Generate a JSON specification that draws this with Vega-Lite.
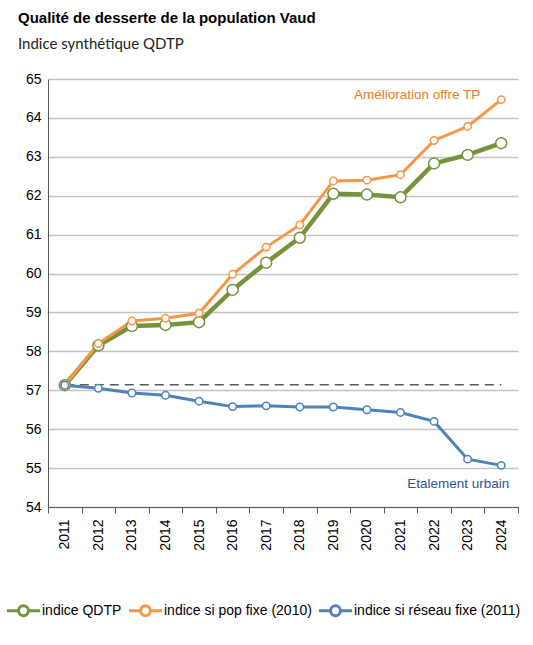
{
  "$schema": "https://vega.github.io/schema/vega-lite/v6.json",
  "autosize": "none",
  "width": 470,
  "height": 428,
  "padding": {"left": 48, "top": 79, "right": 15, "bottom": 138},
  "background": "white",
  "title": {
    "text": "Qualité de desserte de la population Vaud",
    "subtitle": "Indice synthétique QDTP",
    "anchor": "start",
    "frame": "group",
    "dx": -30,
    "offset": 20,
    "font": "Liberation Sans",
    "fontSize": 15,
    "fontWeight": "bold",
    "color": "black",
    "subtitleFont": "Lato",
    "subtitleFontSize": 15,
    "subtitleColor": "#222222",
    "subtitlePadding": 11
  },
  "config": {
    "view": {"stroke": null},
    "font": "Liberation Sans"
  },
  "datasets": {
    "series": [
      {"year": "2011", "value": 57.13, "serie": "indice QDTP"},
      {"year": "2012", "value": 58.15, "serie": "indice QDTP"},
      {"year": "2013", "value": 58.65, "serie": "indice QDTP"},
      {"year": "2014", "value": 58.68, "serie": "indice QDTP"},
      {"year": "2015", "value": 58.75, "serie": "indice QDTP"},
      {"year": "2016", "value": 59.58, "serie": "indice QDTP"},
      {"year": "2017", "value": 60.28, "serie": "indice QDTP"},
      {"year": "2018", "value": 60.92, "serie": "indice QDTP"},
      {"year": "2019", "value": 62.05, "serie": "indice QDTP"},
      {"year": "2020", "value": 62.03, "serie": "indice QDTP"},
      {"year": "2021", "value": 61.96, "serie": "indice QDTP"},
      {"year": "2022", "value": 62.83, "serie": "indice QDTP"},
      {"year": "2023", "value": 63.05, "serie": "indice QDTP"},
      {"year": "2024", "value": 63.35, "serie": "indice QDTP"},
      {"year": "2011", "value": 57.13, "serie": "indice si pop fixe (2010)"},
      {"year": "2012", "value": 58.2, "serie": "indice si pop fixe (2010)"},
      {"year": "2013", "value": 58.78, "serie": "indice si pop fixe (2010)"},
      {"year": "2014", "value": 58.85, "serie": "indice si pop fixe (2010)"},
      {"year": "2015", "value": 58.98, "serie": "indice si pop fixe (2010)"},
      {"year": "2016", "value": 59.98, "serie": "indice si pop fixe (2010)"},
      {"year": "2017", "value": 60.68, "serie": "indice si pop fixe (2010)"},
      {"year": "2018", "value": 61.25, "serie": "indice si pop fixe (2010)"},
      {"year": "2019", "value": 62.38, "serie": "indice si pop fixe (2010)"},
      {"year": "2020", "value": 62.4, "serie": "indice si pop fixe (2010)"},
      {"year": "2021", "value": 62.54, "serie": "indice si pop fixe (2010)"},
      {"year": "2022", "value": 63.42, "serie": "indice si pop fixe (2010)"},
      {"year": "2023", "value": 63.78, "serie": "indice si pop fixe (2010)"},
      {"year": "2024", "value": 64.47, "serie": "indice si pop fixe (2010)"},
      {"year": "2011", "value": 57.13, "serie": "indice si réseau fixe (2011)"},
      {"year": "2012", "value": 57.05, "serie": "indice si réseau fixe (2011)"},
      {"year": "2013", "value": 56.93, "serie": "indice si réseau fixe (2011)"},
      {"year": "2014", "value": 56.87, "serie": "indice si réseau fixe (2011)"},
      {"year": "2015", "value": 56.72, "serie": "indice si réseau fixe (2011)"},
      {"year": "2016", "value": 56.58, "serie": "indice si réseau fixe (2011)"},
      {"year": "2017", "value": 56.6, "serie": "indice si réseau fixe (2011)"},
      {"year": "2018", "value": 56.57, "serie": "indice si réseau fixe (2011)"},
      {"year": "2019", "value": 56.57, "serie": "indice si réseau fixe (2011)"},
      {"year": "2020", "value": 56.5, "serie": "indice si réseau fixe (2011)"},
      {"year": "2021", "value": 56.43, "serie": "indice si réseau fixe (2011)"},
      {"year": "2022", "value": 56.2, "serie": "indice si réseau fixe (2011)"},
      {"year": "2023", "value": 55.23, "serie": "indice si réseau fixe (2011)"},
      {"year": "2024", "value": 55.07, "serie": "indice si réseau fixe (2011)"}
    ],
    "reference": [
      {"year": "2011", "value": 57.14},
      {"year": "2024", "value": 57.14}
    ]
  },
  "encoding": {
    "x": {
      "field": "year",
      "type": "ordinal",
      "scale": {"type": "band", "paddingInner": 0, "paddingOuter": 0},
      "axis": {
        "title": null,
        "labelAngle": -90,
        "labelFontSize": 14,
        "labelColor": "black",
        "labelPadding": 6,
        "tickBand": "extent",
        "tickSize": 6,
        "tickColor": "#595959",
        "domainColor": "#595959",
        "grid": false
      }
    },
    "y": {
      "field": "value",
      "type": "quantitative",
      "scale": {"domain": [54, 65], "nice": false, "zero": false},
      "axis": {
        "title": null,
        "values": [54, 55, 56, 57, 58, 59, 60, 61, 62, 63, 64, 65],
        "labelFontSize": 14,
        "labelColor": "black",
        "labelPadding": 7,
        "ticks": false,
        "domainColor": "#595959",
        "gridColor": "#c4c4c4",
        "gridWidth": 1.5
      }
    }
  },
  "layer": [
    {
      "data": {"name": "reference"},
      "mark": {"type": "line", "color": "#595959", "strokeDash": [9, 6], "strokeWidth": 1.5}
    },
    {
      "data": {"name": "series"},
      "transform": [{"filter": "datum.serie === 'indice QDTP'"}],
      "mark": {"type": "line", "strokeWidth": 4.5},
      "encoding": {
        "color": {
          "field": "serie",
          "type": "nominal",
          "scale": {
            "domain": ["indice QDTP", "indice si pop fixe (2010)", "indice si réseau fixe (2011)"],
            "range": ["#76923c", "#f79646", "#4f81bd"]
          },
          "legend": {
            "title": null,
            "orient": "none",
            "direction": "horizontal",
            "legendX": -43,
            "legendY": 513,
            "symbolType": "M-1,0H-0.3M0.3,0H1M-0.3,0A0.3,0.3 0 1,1 0.3,0A0.3,0.3 0 1,1 -0.3,0",
            "symbolSize": 1100,
            "symbolStrokeWidth": 3,
            "symbolFillColor": "white",
            "labelFontSize": 14,
            "labelColor": "black",
            "labelOffset": 0,
            "labelLimit": 300,
            "columnPadding": 0
          }
        }
      }
    },
    {
      "data": {"name": "series"},
      "transform": [{"filter": "datum.serie !== 'indice QDTP'"}],
      "mark": {"type": "line", "strokeWidth": 3},
      "encoding": {
        "color": {"field": "serie", "type": "nominal"}
      }
    },
    {
      "data": {"name": "series"},
      "transform": [{"filter": "datum.serie === 'indice QDTP'"}],
      "mark": {"type": "point", "filled": false, "fill": "white", "fillOpacity": 1, "opacity": 1, "strokeWidth": 1.5, "size": 120},
      "encoding": {
        "color": {"field": "serie", "type": "nominal"}
      }
    },
    {
      "data": {"name": "series"},
      "transform": [{"filter": "datum.serie !== 'indice QDTP'"}],
      "mark": {"type": "point", "filled": false, "fill": "white", "fillOpacity": 1, "opacity": 1, "strokeWidth": 1.5, "size": 55},
      "encoding": {
        "color": {"field": "serie", "type": "nominal"}
      }
    },
    {
      "data": {"values": [{"year": "2024", "value": 64.6, "label": "Amélioration offre TP"}]},
      "mark": {"type": "text", "align": "right", "baseline": "middle", "fontSize": 13.5, "dx": -21, "color": "#f07a22"},
      "encoding": {"text": {"field": "label"}}
    },
    {
      "data": {"values": [{"year": "2024", "value": 54.6, "label": "Etalement urbain"}]},
      "mark": {"type": "text", "align": "right", "baseline": "middle", "fontSize": 13.5, "dx": 8, "color": "#2f5597"},
      "encoding": {"text": {"field": "label"}}
    }
  ]
}
